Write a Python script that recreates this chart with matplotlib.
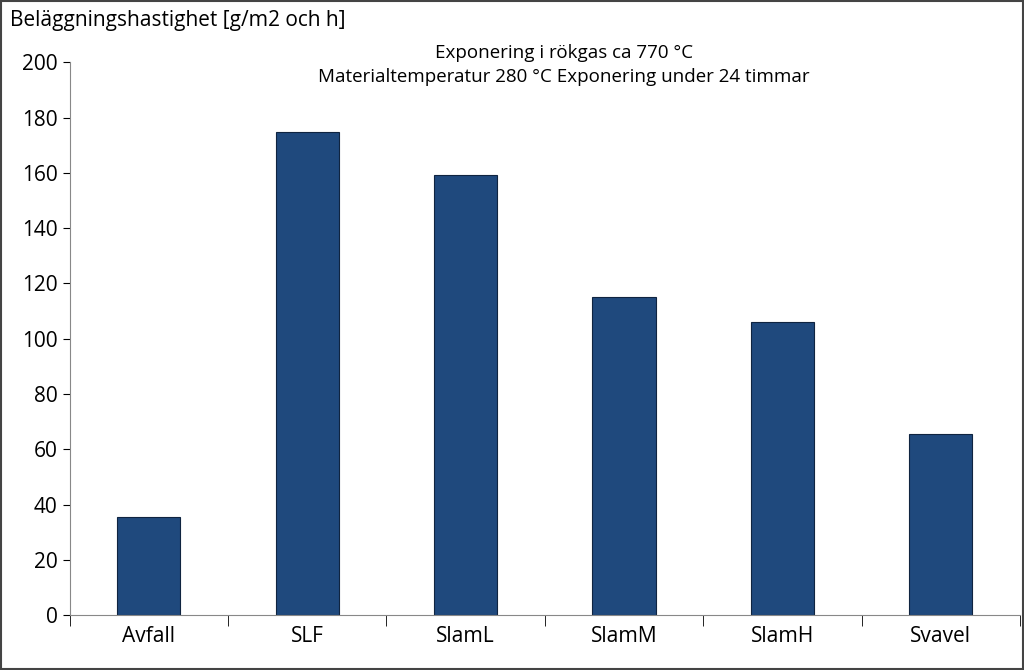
import matplotlib
matplotlib.use("Agg")
import matplotlib.pyplot as plt
import numpy as np

categories = ["Avfall", "SLF", "SlamL", "SlamM", "SlamH", "Svavel"]
values = [35.3, 174.8, 159.2, 115.0, 106.0, 65.5]
yticks = [0, 20, 40, 60, 80, 100, 120, 140, 160, 180, 200]

plt.rcParams["font.family"] = "Open Sans"
fig = plt.figure(figsize=(10.24, 6.7), dpi=100)
ax = fig.add_axes([0.068, 0.082, 0.928, 0.825])
x = np.arange(len(categories))
ax.bar(x, values, width=0.4, color="#1F497D", edgecolor="#0F2440", linewidth=0.8)
ax.set_xlim(-0.5, len(categories) - 0.5)
ax.set_ylim(0, 200)
ax.set_yticks(yticks)
ax.tick_params(axis="y", labelsize=15, direction="out", length=5)
ax.set_xticks(x)
ax.set_xticklabels(categories, fontsize=15)
ax.tick_params(axis="x", length=0, pad=8)
ax.set_xticks(np.arange(-0.5, len(categories), 1), minor=True)
ax.tick_params(axis="x", which="minor", length=8, direction="out")
for s in ["top", "right"]:
    ax.spines[s].set_visible(False)
ax.spines["left"].set_color("#888888")
ax.spines["bottom"].set_color("#888888")
fig.text(0.01, 0.985, "Beläggningshastighet [g/m2 och h]", fontsize=15, va="top", ha="left")
fig.text(0.551, 0.935, "Exponering i rökgas ca 770 °C\nMaterialtemperatur 280 °C Exponering under 24 timmar",
         ha="center", va="top", fontsize=13.5, linespacing=1.45)
fig.patches.append(plt.Rectangle((0.001, 0.001), 0.998, 0.998, transform=fig.transFigure,
                                 fill=False, edgecolor="#444444", linewidth=1.5))
fig.savefig("out.png", dpi=100)
